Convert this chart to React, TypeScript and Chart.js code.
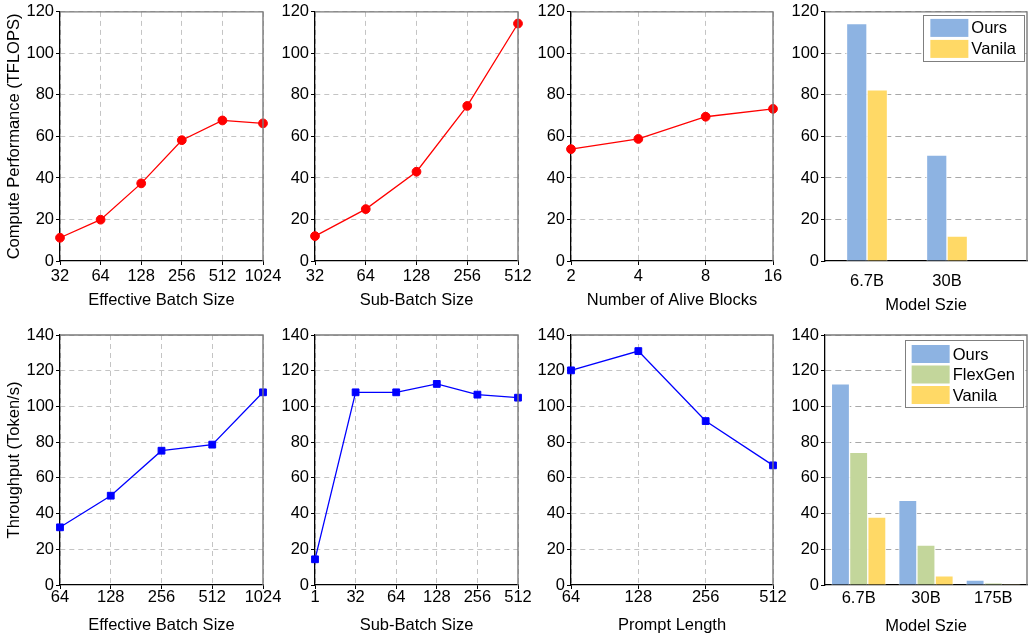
import React, { useEffect, useRef } from "react";
import { Chart, registerables } from "chart.js";

Chart.register(...registerables);

// ---------- data ----------
const effBatchTop = ["32", "64", "128", "256", "512", "1024"];
const computeEffBatch = [11.2, 19.9, 37.4, 58.2, 67.7, 66.3];
const subBatchTop = ["32", "64", "128", "256", "512"];
const computeSubBatch = [12.0, 25.0, 43.0, 74.7, 114.4];
const aliveBlocks = ["2", "4", "8", "16"];
const computeAlive = [53.9, 58.8, 69.5, 73.3];
const modelsTop = ["6.7B", "30B"];
const computeOurs = [114.4, 51.0];
const computeVanila = [82.4, 12.0];

const effBatchBottom = ["64", "128", "256", "512", "1024"];
const tputEffBatch = [32.3, 50.0, 75.2, 78.6, 107.9];
const subBatchBottom = ["1", "32", "64", "128", "256", "512"];
const tputSubBatch = [14.4, 107.9, 107.9, 112.6, 106.6, 104.9];
const promptLen = ["64", "128", "256", "512"];
const tputPrompt = [120.2, 131.0, 91.8, 67.0];
const modelsBottom = ["6.7B", "30B", "175B"];
const tputOurs = [112.6, 47.4, 2.8];
const tputFlexGen = [74.3, 22.4, 1.1];
const tputVanila = [38.1, 5.2, 0.3];

const yMaxTop = 120;
const yMaxBottom = 140;
const yStep = 20;

// ---------- styles ----------
const FONT_FAMILY = '"Liberation Sans", Arial, sans-serif';
const FONT_SIZE = 16.5;
const tickFont = { family: FONT_FAMILY, size: FONT_SIZE, lineHeight: 1.2 };
const titleFont = { family: FONT_FAMILY, size: FONT_SIZE, lineHeight: 1 };
const C_OURS = "#8db3e2";
const C_FLEX = "#c3d69b";
const C_VAN = "#ffd966";

type Area = { l: number; t: number; r: number; b: number };
type PanelDef = {
  left: number;
  top: number;
  width: number;
  height: number;
  area: Area;
  config: () => any;
};

const framePlugin = {
  id: "frameTR",
  afterDraw(chart: any) {
    const { ctx, chartArea } = chart;
    const { left, top, right, bottom } = chartArea;
    ctx.save();
    ctx.strokeStyle = "#7a7a7a";
    ctx.lineWidth = 1.4;
    ctx.beginPath();
    ctx.moveTo(left, top);
    ctx.lineTo(right, top);
    ctx.lineTo(right, bottom);
    ctx.stroke();
    ctx.restore();
  },
};

function boxLegend(dx: number, dy: number, rowH: number, padT: number, padB: number) {
  return {
    id: "boxLegend",
    afterDraw(chart: any) {
      const { ctx, chartArea } = chart;
      const ds = chart.data.datasets;
      ctx.save();
      ctx.font = `${FONT_SIZE}px ${FONT_FAMILY}`;
      const maxW = Math.max(...ds.map((d: any) => ctx.measureText(d.label).width));
      const padL = 7, sw = 38, sh = 18, gap = 3, padR = 8;
      const w = padL + sw + gap + maxW + padR;
      const h = padT + (ds.length - 1) * rowH + sh + padB;
      const x = chartArea.right - dx - w;
      const y = chartArea.top + dy;
      ctx.fillStyle = "#ffffff";
      ctx.fillRect(x, y, w, h);
      ctx.strokeStyle = "#7f7f7f";
      ctx.lineWidth = 1;
      ctx.strokeRect(Math.round(x) + 0.5, Math.round(y) + 0.5, Math.round(w), Math.round(h));
      ds.forEach((d: any, i: number) => {
        const sy = y + padT + i * rowH;
        ctx.fillStyle = d.backgroundColor;
        ctx.fillRect(x + padL, sy, sw, sh);
        ctx.fillStyle = "#000";
        ctx.textBaseline = "middle";
        ctx.textAlign = "left";
        ctx.fillText(d.label, x + padL + sw + gap, sy + sh / 2 + 1);
      });
      ctx.restore();
    },
  };
}

function baseLayout(p: { left: number; top: number; width: number; height: number; area: Area }) {
  return {
    top: p.area.t - p.top,
    right: p.left + p.width - p.area.r,
    bottom: 0,
    left: 0,
  };
}

function yScale(p: any, max: number, title: string | null, gridColor: string, dash: number[]) {
  return {
    min: 0,
    max,
    ticks: { stepSize: yStep, font: tickFont, color: "#000", padding: 2 },
    grid: {
      color: (c: any) => (c.tick && c.tick.value === 0 ? "rgba(0,0,0,0)" : gridColor),
      lineWidth: 1,
      tickColor: "#000",
      tickLength: 4,
      tickWidth: 1,
    },
    border: { display: true, color: "#000", width: 1.3, dash },
    title: title
      ? {
          display: true,
          text: title,
          font: titleFont,
          color: "#000",
          padding: { top: 6.3, bottom: 0 },
        }
      : { display: false },
    afterFit: (s: any) => {
      s.width = p.area.l - p.left;
    },
  };
}

function xTitle(text: string, p: any, titleY: number) {
  const canvasBottom = p.top + p.height;
  return {
    display: true,
    text,
    font: titleFont,
    color: "#000",
    padding: { top: 0, bottom: canvasBottom - titleY - FONT_SIZE / 2 },
  };
}

function lineConfig(
  p: any,
  labels: string[],
  values: number[],
  color: string,
  pointStyle: string,
  yMax: number,
  xLabel: string,
  yLabel: string | null,
  tickPad: number,
  titleY: number
) {
  const dash = [5, 4];
  const grid = "#c4c4c4";
  return {
    type: "line",
    data: {
      labels,
      datasets: [
        {
          data: values,
          borderColor: color,
          backgroundColor: color,
          borderWidth: 1.3,
          pointStyle,
          pointRadius: pointStyle === "circle" ? 4.4 : 4.8,
          pointBorderWidth: 1,
          pointBorderColor: color,
          pointBackgroundColor: color,
          tension: 0,
          fill: false,
        },
      ],
    },
    options: {
      responsive: false,
      animation: false,
      events: [],
      layout: { padding: baseLayout(p) },
      plugins: { legend: { display: false }, tooltip: { enabled: false } },
      scales: {
        x: {
          type: "category",
          offset: false,
          ticks: { font: tickFont, color: "#000", padding: tickPad, autoSkip: false, maxRotation: 0 },
          grid: { color: grid, lineWidth: 1, tickColor: "#000", tickLength: 4, tickWidth: 1 },
          border: { display: true, color: "#000", width: 1.3, dash },
          title: xTitle(xLabel, p, titleY),
          afterFit: (s: any) => {
            s.height = p.top + p.height - p.area.b;
          },
        },
        y: yScale(p, yMax, yLabel, grid, dash),
      },
    },
    plugins: [framePlugin],
  };
}

const COL = [
  { left: 0, width: 300, l: 60, r: 263 },
  { left: 265, width: 290, l: 315, r: 518 },
  { left: 525, width: 285, l: 571, r: 773 },
  { left: 780, width: 249, l: 825, r: 1027 },
];
const ROW = [
  { top: 0, height: 320, t: 11, b: 261 },
  { top: 320, height: 314, t: 335, b: 585 },
];

function mk(ci: number, ri: number) {
  const c = COL[ci];
  const r = ROW[ri];
  return {
    left: c.left,
    top: r.top,
    width: c.width,
    height: r.height,
    area: { l: c.l, t: r.t, r: c.r, b: r.b },
  };
}

const panels: PanelDef[] = [];

// top row
{
  const p = mk(0, 0);
  panels.push({
    ...p,
    config: () =>
      lineConfig(p, effBatchTop, computeEffBatch, "#ff0000", "circle", yMaxTop, "Effective Batch Size", "Compute Performance (TFLOPS)", 2, 300),
  });
}
{
  const p = mk(1, 0);
  panels.push({
    ...p,
    config: () => lineConfig(p, subBatchTop, computeSubBatch, "#ff0000", "circle", yMaxTop, "Sub-Batch Size", null, 2, 300),
  });
}
{
  const p = mk(2, 0);
  panels.push({
    ...p,
    config: () => lineConfig(p, aliveBlocks, computeAlive, "#ff0000", "circle", yMaxTop, "Number of Alive Blocks", null, 2, 300),
  });
}
{
  const p = mk(3, 0);
  panels.push({
    ...p,
    config: () => ({
      type: "bar",
      data: {
        datasets: [
          {
            label: "Ours",
            data: computeOurs.map((y, i) => ({ x: i, y })),
            backgroundColor: C_OURS,
            borderColor: "rgba(255,255,255,0.9)",
            borderWidth: 1,
            barThickness: 20.5,
          },
          {
            label: "Vanila",
            data: computeVanila.map((y, i) => ({ x: i, y })),
            backgroundColor: C_VAN,
            borderColor: "rgba(255,255,255,0.9)",
            borderWidth: 1,
            barThickness: 20.5,
          },
        ],
      },
      options: {
        responsive: false,
        animation: false,
        events: [],
        layout: { padding: baseLayout(p) },
        plugins: { legend: { display: false }, tooltip: { enabled: false } },
        scales: {
          x: {
            type: "linear",
            offset: false,
            bounds: "data",
            min: -0.525,
            max: 2,
            afterBuildTicks: (s: any) => {
              s.ticks = modelsTop.map((_, i) => ({ value: i }));
            },
            ticks: {
              font: tickFont,
              color: "#000",
              padding: 7,
              autoSkip: false,
              maxRotation: 0,
              callback: (v: any) => modelsTop[v] ?? "",
            },
            grid: { drawOnChartArea: false, tickColor: "rgba(0,0,0,0)", tickLength: 4 },
            border: { display: true, color: "#000", width: 1.3 },
            title: xTitle("Model Szie", p, 305),
            afterFit: (s: any) => {
              s.height = p.top + p.height - p.area.b;
            },
          },
          y: yScale(p, yMaxTop, null, "#a8a8a8", [6, 4]),
        },
      },
      plugins: [framePlugin, boxLegend(3, 3, 21, 4, 2.5)],
    }),
  });
}

// bottom row
{
  const p = mk(0, 1);
  panels.push({
    ...p,
    config: () =>
      lineConfig(p, effBatchBottom, tputEffBatch, "#0000ff", "rect", yMaxBottom, "Effective Batch Size", "Throughput (Token/s)", -1, 625),
  });
}
{
  const p = mk(1, 1);
  panels.push({
    ...p,
    config: () => lineConfig(p, subBatchBottom, tputSubBatch, "#0000ff", "rect", yMaxBottom, "Sub-Batch Size", null, -1, 625),
  });
}
{
  const p = mk(2, 1);
  panels.push({
    ...p,
    config: () => lineConfig(p, promptLen, tputPrompt, "#0000ff", "rect", yMaxBottom, "Prompt Length", null, -1, 625),
  });
}
{
  const p = mk(3, 1);
  panels.push({
    ...p,
    config: () => ({
      type: "bar",
      data: {
        labels: modelsBottom,
        datasets: [
          { label: "Ours", data: tputOurs, backgroundColor: C_OURS, borderColor: "rgba(255,255,255,0.9)", borderWidth: 1, barThickness: 18.2 },
          { label: "FlexGen", data: tputFlexGen, backgroundColor: C_FLEX, borderColor: "rgba(255,255,255,0.9)", borderWidth: 1, barThickness: 18.2 },
          { label: "Vanila", data: tputVanila, backgroundColor: C_VAN, borderColor: "rgba(255,255,255,0.9)", borderWidth: 1, barThickness: 18.2 },
        ],
      },
      options: {
        responsive: false,
        animation: false,
        events: [],
        layout: { padding: baseLayout(p) },
        plugins: { legend: { display: false }, tooltip: { enabled: false } },
        scales: {
          x: {
            type: "category",
            offset: true,
            ticks: { font: tickFont, color: "#000", padding: 0, autoSkip: false, maxRotation: 0 },
            grid: { drawOnChartArea: false, tickColor: "rgba(0,0,0,0)", tickLength: 4 },
            border: { display: true, color: "#000", width: 1.3 },
            title: xTitle("Model Szie", p, 626),
            afterFit: (s: any) => {
              s.height = p.top + p.height - p.area.b;
            },
          },
          y: yScale(p, yMaxBottom, null, "#a8a8a8", [6, 4]),
        },
      },
      plugins: [framePlugin, boxLegend(4, 5, 20.5, 5, 3)],
    }),
  });
}

function Panel({ p }: { p: PanelDef }) {
  const ref = useRef<HTMLCanvasElement | null>(null);
  useEffect(() => {
    if (!ref.current) return;
    const chart = new Chart(ref.current, p.config());
    return () => chart.destroy();
  }, [p]);
  return (
    <canvas
      ref={ref}
      width={p.width}
      height={p.height}
      style={{ position: "absolute", left: p.left, top: p.top, width: p.width, height: p.height }}
    />
  );
}

export default function App() {
  return (
    <div
      style={{
        position: "fixed",
        left: 0,
        top: 0,
        width: 1029,
        height: 634,
        background: "#ffffff",
        overflow: "hidden",
      }}
    >
      {panels.map((p, i) => (
        <Panel key={i} p={p} />
      ))}
    </div>
  );
}
